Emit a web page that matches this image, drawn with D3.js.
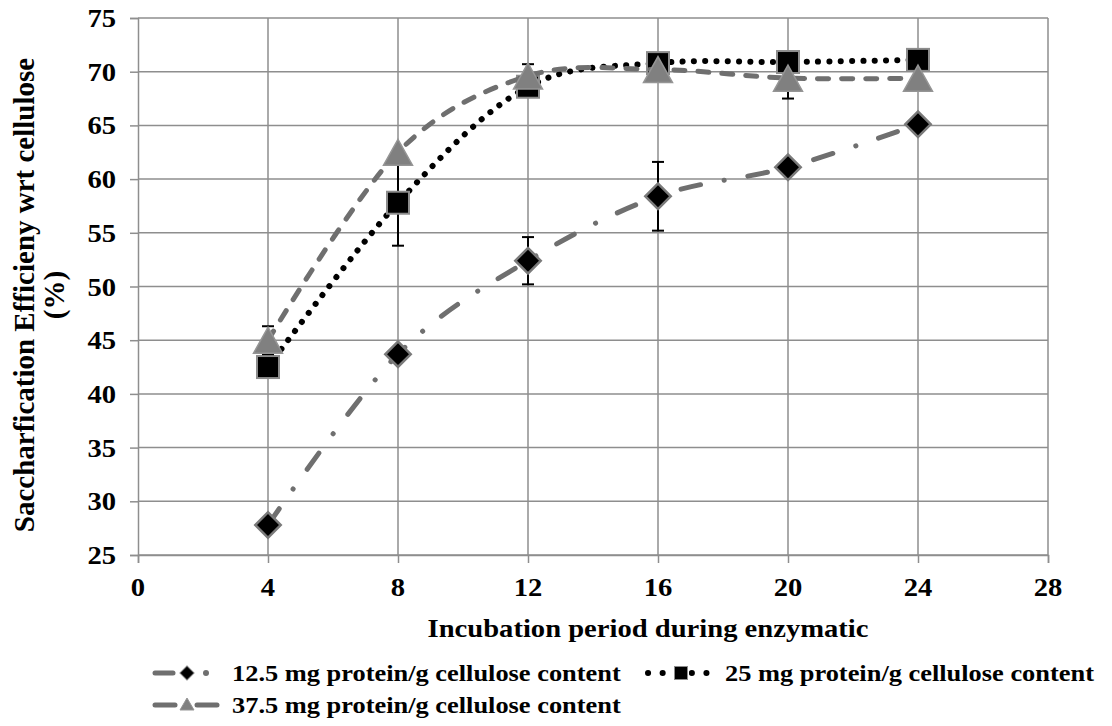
<!DOCTYPE html>
<html>
<head>
<meta charset="utf-8">
<script src="https://cdn.jsdelivr.net/npm/d3@7"></script>
<style>
  body { margin: 0; background: #fff; }
  text { font-weight: bold; fill: #000; }
</style>
</head>
<body>
<div id="chart"></div>
<script>
// data
var hours = [4, 8, 12, 16, 20, 24];
var seriesNames = ["12.5 mg protein/g cellulose content", "25 mg protein/g cellulose content", "37.5 mg protein/g cellulose content"];
var low = [27.8, 43.7, 52.4, 58.4, 61.1, 65.1];
var mid = [42.5, 57.8, 68.6, 70.8, 70.9, 71.1];
var high = [45.0, 62.5, 69.6, 70.2, 69.4, 69.4];
var lowErr = [0, 0, 2.2, 3.2, 0, 0];
var midErr = [0, 4.0, 0, 0, 0, 0];
var highErr = [1.3, 0, 1.1, 0, 1.9, 0];
var xTicks = [0, 4, 8, 12, 16, 20, 24, 28];
var yTicks = [25, 30, 35, 40, 45, 50, 55, 60, 65, 70, 75];
var xTitle = "Incubation period during enzymatic";
var yTitle1 = "Saccharfication Efficieny wrt cellulose";
var yTitle2 = "(%)";

var W = 1112, H = 726;
var margin = {top: 18, right: 64, bottom: 171, left: 138};
var width = W - margin.left - margin.right;
var height = H - margin.top - margin.bottom;
var sx = 1.1; // the picture is a bit wide, so text gets stretched too
var FONT = "'Liberation Serif', 'Times New Roman', Tinos, Times, serif";

var svg = d3.select("#chart").append("svg")
    .attr("width", W)
    .attr("height", H)
    .attr("font-family", FONT);

var xScale = d3.scaleLinear().domain([0, 28]).range([margin.left, margin.left + width]);
var yScale = d3.scaleLinear().domain([25, 75]).range([margin.top + height, margin.top]);

var gridColor = "#8e8e8e";
var lineGray = "#6f6f6f";

// gridlines
svg.append("g").selectAll("line.h")
    .data(yTicks)
    .enter().append("line")
    .attr("x1", xScale(0)).attr("x2", xScale(28))
    .attr("y1", d => yScale(d)).attr("y2", d => yScale(d))
    .attr("stroke", gridColor).attr("stroke-width", 1.5);
svg.append("g").selectAll("line.v")
    .data(xTicks.slice(1))
    .enter().append("line")
    .attr("x1", d => xScale(d)).attr("x2", d => xScale(d))
    .attr("y1", yScale(25)).attr("y2", yScale(75))
    .attr("stroke", gridColor).attr("stroke-width", 1.5);

// axes
var xAxis = svg.append("g")
    .attr("transform", "translate(0," + yScale(25) + ")")
    .call(d3.axisBottom(xScale).tickValues(xTicks).tickSize(8).tickFormat(""));
var yAxis = svg.append("g")
    .attr("transform", "translate(" + xScale(0) + ",0)")
    .call(d3.axisLeft(yScale).tickValues(yTicks).tickSize(8).tickFormat(""));
[xAxis, yAxis].forEach(function(a) {
    a.selectAll("path, line").attr("stroke", gridColor).attr("stroke-width", 1.5);
});

function stretchedText(g, x, y, str, size, anchor) {
    return g.append("text")
        .attr("transform", "translate(" + x + "," + y + ") scale(" + sx + ",1)")
        .attr("text-anchor", anchor || "start")
        .attr("font-family", FONT)
        .style("font-size", size + "px")
        .text(str);
}

// tick labels
xTicks.forEach(function(t) {
    stretchedText(svg, xScale(t), 596, t, 26, "middle");
});
yTicks.forEach(function(t) {
    stretchedText(svg, 116, yScale(t) + 9, t, 26, "end");
});

// axis titles
stretchedText(svg, 648, 637, xTitle, 26, "middle");
svg.append("text")
    .attr("transform", "translate(34," + 295 + ") rotate(-90)")
    .attr("text-anchor", "middle")
    .attr("font-family", FONT)
    .style("font-size", "29px")
    .text(yTitle1);
svg.append("text")
    .attr("transform", "translate(64," + 295 + ") rotate(-90)")
    .attr("text-anchor", "middle")
    .attr("font-family", FONT)
    .style("font-size", "29px")
    .text(yTitle2);

// markers
function diamond(g, x, y, s) {
    return g.append("rect")
        .attr("x", -s / 2).attr("y", -s / 2).attr("width", s).attr("height", s)
        .attr("transform", "translate(" + x + "," + y + ") rotate(45)")
        .attr("fill", "#000").attr("stroke", "#7a7a7a").attr("stroke-width", 2.5);
}
function square(g, x, y, s) {
    return g.append("rect")
        .attr("x", x - s / 2).attr("y", y - s / 2).attr("width", s).attr("height", s)
        .attr("fill", "#000").attr("stroke", "#8c8c8c").attr("stroke-width", 2);
}
function triangle(g, x, y, w, h) {
    return g.append("path")
        .attr("d", "M" + x + "," + (y - h / 2) + "L" + (x + w / 2) + "," + (y + h / 2) + "L" + (x - w / 2) + "," + (y + h / 2) + "Z")
        .attr("fill", "#808080").attr("stroke", "#959595").attr("stroke-width", 1.5);
}

var styles = [
    {vals: low, err: lowErr, stroke: lineGray, w: 5, dash: "20,24,0.1,24",
     mark: function(g, x, y) { diamond(g, x, y, 18); }},
    {vals: mid, err: midErr, stroke: "#000", w: 6, dash: "0.1,11.2",
     mark: function(g, x, y) { square(g, x, y, 22); }},
    {vals: high, err: highErr, stroke: lineGray, w: 5, dash: "11,13",
     mark: function(g, x, y) { triangle(g, x, y, 29, 26); }}
];

var line = d3.line()
    .x(d => xScale(d[0]))
    .y(d => yScale(d[1]))
    .curve(d3.curveCardinal.tension(0));

styles.forEach(function(s) {
    var pts = hours.map((h, i) => [h, s.vals[i]]);
    var g = svg.append("g");
    g.append("path")
        .datum(pts)
        .attr("d", line)
        .attr("fill", "none")
        .attr("stroke", s.stroke)
        .attr("stroke-width", s.w)
        .attr("stroke-linecap", "round")
        .attr("stroke-dasharray", s.dash);
    // error bars
    hours.forEach(function(h, i) {
        if (!s.err[i]) return;
        var x = xScale(h), y0 = yScale(s.vals[i] - s.err[i]), y1 = yScale(s.vals[i] + s.err[i]);
        g.append("line").attr("x1", x).attr("x2", x).attr("y1", y0).attr("y2", y1)
            .attr("stroke", "#000").attr("stroke-width", 2);
        [y0, y1].forEach(function(yy) {
            g.append("line").attr("x1", x - 6).attr("x2", x + 6).attr("y1", yy).attr("y2", yy)
                .attr("stroke", "#000").attr("stroke-width", 2);
        });
    });
    hours.forEach(function(h, i) {
        s.mark(g, xScale(h), yScale(s.vals[i]));
    });
});

// legend
var leg = svg.append("g");
function legendLine(x1, x2, y, s) {
    leg.append("line").attr("x1", x1).attr("x2", x2).attr("y1", y).attr("y2", y)
        .attr("stroke", s.stroke).attr("stroke-width", s.w)
        .attr("stroke-linecap", "round").attr("stroke-dasharray", s.dash);
}
// entry 1
legendLine(155, 176, 673, {stroke: lineGray, w: 5, dash: "18,100"});
leg.append("circle").attr("cx", 206).attr("cy", 673).attr("r", 3).attr("fill", lineGray);
diamond(leg, 187, 673, 10).attr("stroke-width", 1);
stretchedText(leg, 232, 681, seriesNames[0], 24);
// entry 2
legendLine(648, 714, 673, {stroke: "#000", w: 6, dash: "0.1,14.5"});
leg.append("rect").attr("x", 671).attr("y", 662).attr("width", 18).attr("height", 22).attr("fill", "#fff");
square(leg, 681, 673, 13).attr("stroke-width", 1);
stretchedText(leg, 725, 681, seriesNames[1], 24);
// entry 3
legendLine(155, 175, 705, {stroke: lineGray, w: 5, dash: "20,100"});
legendLine(197, 217, 705, {stroke: lineGray, w: 5, dash: "20,100"});
triangle(leg, 187, 704, 14, 12).attr("stroke-width", 1);
stretchedText(leg, 232, 713, seriesNames[2], 24);
</script>
</body>
</html>
